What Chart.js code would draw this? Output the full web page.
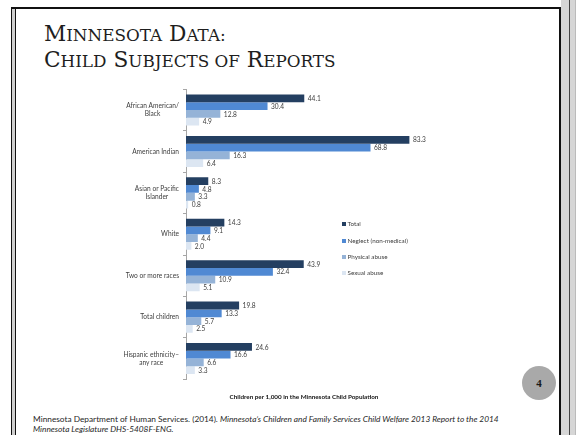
<!DOCTYPE html>
<html>
<head>
<meta charset="utf-8">
<script src="https://cdn.jsdelivr.net/npm/chart.js@4.4.1/dist/chart.umd.min.js"></script>
<style>
  html,body{margin:0;padding:0;background:#fff;}
  body{width:576px;height:435px;position:relative;overflow:hidden;}
  .abs{position:absolute;}
  .title{left:44px;font-family:"DejaVu Serif","Liberation Serif",serif;font-size:21.7px;line-height:26px;color:#1e1e1e;white-space:nowrap;}
  .title .s{font-size:16.8px;}
  .foot{left:33px;top:413.5px;font-family:Lato,"Noto Sans",sans-serif;font-size:8.3px;line-height:10.3px;color:#262626;white-space:nowrap;}
  .leg{left:341.5px;font-family:Lato,"Noto Sans",sans-serif;font-size:6.3px;color:#404040;white-space:nowrap;line-height:8px;}
  .leg i{display:inline-block;width:4px;height:4px;margin-right:2px;vertical-align:0px;}
  .circle{left:522px;top:366px;width:34px;height:34px;border-radius:50%;background:#a9a9a9;font-family:"Liberation Serif",serif;font-weight:bold;font-size:11px;line-height:34px;text-align:center;color:#1a1a1a;}
</style>
</head>
<body>
<!-- frame -->
<div class="abs" style="left:11px;top:7px;width:550px;height:2px;background:#111;"></div>
<div class="abs" style="left:11px;top:7px;width:1px;height:428px;background:#111;"></div>
<div class="abs" style="left:12px;top:9px;width:3px;height:426px;background:#cfcfcf;"></div>
<div class="abs" style="left:15px;top:9px;width:1px;height:426px;background:#111;"></div>
<div class="abs" style="left:559px;top:7px;width:2px;height:428px;background:#111;"></div>
<div class="abs" style="left:561px;top:0px;width:15px;height:435px;background:#d6d6d6;"></div>
<div class="abs" style="left:569px;top:0px;width:1px;height:435px;background:#444;"></div>
<div class="abs" style="left:575px;top:0px;width:1px;height:435px;background:#bbb;"></div>

<div class="abs title" style="top:21px;">M<span class="s">INNESOTA</span> D<span class="s">ATA:</span></div>
<div class="abs title" style="top:47px;">C<span class="s">HILD</span> S<span class="s">UBJECTS OF</span> R<span class="s">EPORTS</span></div>

<canvas id="c" width="576" height="330" class="abs" style="left:0;top:80px;"></canvas>

<div id="legend"></div>

<div class="abs circle">4</div>

<div class="abs foot">Minnesota Department of Human Services. (2014). <i>Minnesota’s Children and Family Services Child Welfare 2013 Report to the 2014</i><br><i>Minnesota Legislature DHS-5408F-ENG.</i></div>

<script>
const categories = [
  ["African American/", "Black"],
  ["American Indian"],
  ["Asian or Pacific", "Islander"],
  ["White"],
  ["Two or more races"],
  ["Total children"],
  ["Hispanic ethnicity\u2013", "any race"]
];
const seriesNames = ["Total", "Neglect (non-medical)", "Physical abuse", "Sexual abuse"];
const totalValues    = [44.1, 83.3, 8.3, 14.3, 43.9, 19.8, 24.6];
const neglectValues  = [30.4, 68.8, 4.8, 9.1, 32.4, 13.3, 16.6];
const physicalValues = [12.8, 16.3, 3.3, 4.4, 10.9, 5.7, 6.6];
const sexualValues   = [4.9, 6.4, 0.8, 2.0, 5.1, 2.5, 3.3];
const axisTitle = "Children per 1,000 in the Minnesota Child Population";

const colors = ["#243f61", "#5089d3", "#95b3d7", "#dce6f2"];
const allValues = [totalValues, neglectValues, physicalValues, sexualValues];

const labelFont = '6.6px Lato, "Noto Sans", sans-serif';

const yLabelPlugin = {
  id: 'yLabels',
  afterDraw(chart) {
    const ctx = chart.ctx;
    const y = chart.scales.y;
    ctx.save();
    ctx.font = labelFont;
    ctx.fillStyle = '#404040';
    ctx.textBaseline = 'middle';
    ctx.textAlign = 'center';
    const rightEdge = 179;
    const lh = 8.3;
    categories.forEach((lines, i) => {
      const cy = y.getPixelForValue(i);
      const w = Math.max(...lines.map(l => ctx.measureText(l).width));
      const cx = rightEdge - w / 2;
      const y0 = cy - (lines.length - 1) * lh / 2;
      lines.forEach((l, k) => ctx.fillText(l, cx, y0 + k * lh));
    });
    ctx.restore();
  }
};

const valueLabelPlugin = {
  id: 'valueLabels',
  afterDatasetsDraw(chart) {
    const ctx = chart.ctx;
    ctx.save();
    ctx.font = labelFont;
    ctx.fillStyle = '#404040';
    ctx.textBaseline = 'middle';
    ctx.textAlign = 'left';
    chart.data.datasets.forEach((ds, di) => {
      const meta = chart.getDatasetMeta(di);
      meta.data.forEach((bar, i) => {
        ctx.fillText(ds.data[i].toFixed(1), bar.x + 3.5, bar.y + 0.5);
      });
    });
    ctx.restore();
  }
};

new Chart(document.getElementById('c'), {
  type: 'bar',
  data: {
    labels: categories.map(l => l.join(' ')),
    datasets: seriesNames.map((n, i) => ({
      label: n,
      data: allValues[i],
      backgroundColor: colors[i],
      borderWidth: 0,
      barPercentage: 1,
      categoryPercentage: 0.75
    }))
  },
  options: {
    indexAxis: 'y',
    responsive: false,
    animation: false,
    devicePixelRatio: 1,
    layout: { padding: { top: 9.3, right: 154, bottom: 0, left: 0 } },
    plugins: { legend: { display: false }, tooltip: { enabled: false } },
    scales: {
      x: {
        min: 0, max: 88,
        grid: { display: false },
        border: { display: false },
        ticks: { display: false },
        title: {
          display: true, text: axisTitle, color: '#111',
          font: { family: 'Lato, "Noto Sans", sans-serif', size: 6.3, weight: 'bold' },
          padding: { top: 0, bottom: 9.4 }
        },
        afterFit(s) { s.height = 30.7; }
      },
      y: {
        grid: { display: true, drawOnChartArea: false, drawTicks: true, tickLength: 3, color: '#a6a6a6', offset: true },
        border: { display: true, color: '#a6a6a6', width: 1 },
        ticks: { display: false },
        afterFit(s) { s.width = 186; }
      }
    }
  },
  plugins: [yLabelPlugin, valueLabelPlugin]
});

// HTML legend
const legendTops = [224, 240.5, 256.7, 273];
const legEl = document.getElementById('legend');
seriesNames.forEach((n, i) => {
  const d = document.createElement('div');
  d.className = 'abs leg';
  d.style.top = (legendTops[i] - 4) + 'px';
  d.innerHTML = '<i style="background:' + colors[i] + '"></i>' + n;
  legEl.appendChild(d);
});
</script>
</body>
</html>
